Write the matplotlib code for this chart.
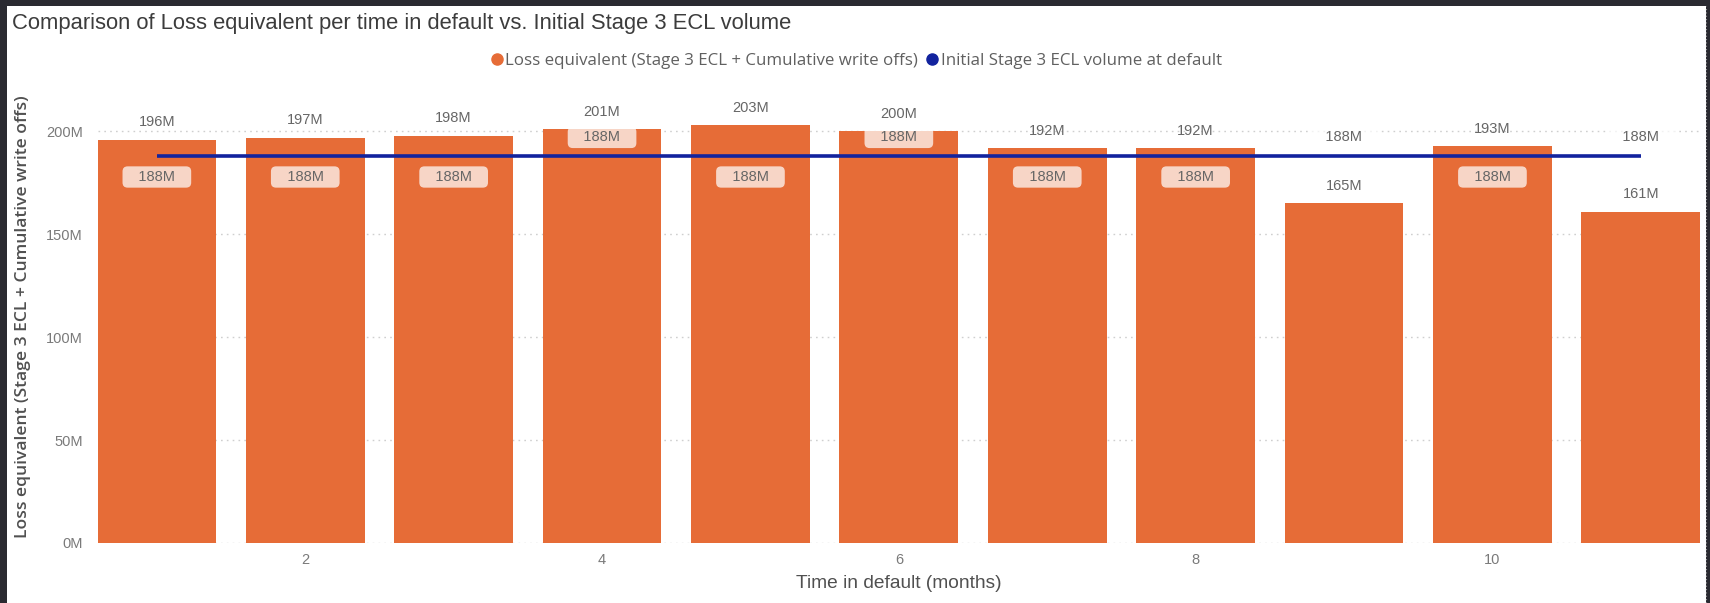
import matplotlib
matplotlib.use("Agg")
import matplotlib.pyplot as plt
from matplotlib.lines import Line2D
from matplotlib.patches import Rectangle

# ---- data -------------------------------------------------------------
months = [1, 2, 3, 4, 5, 6, 7, 8, 9, 10, 11]
loss_equivalent = [196, 197, 198, 201, 203, 200, 192, 192, 165, 193, 161]   # M
initial_stage3_ecl = [188, 188, 188, 188, 188, 188, 188, 188, 188, 188, 188]  # M
x_ticks = [2, 4, 6, 8, 10]
y_ticks = [0, 50, 100, 150, 200]

title = "Comparison of Loss equivalent per time in default vs. Initial Stage 3 ECL volume"
bar_name = "Loss equivalent (Stage 3 ECL + Cumulative write offs)"
line_name = "Initial Stage 3 ECL volume at default"
x_title = "Time in default (months)"
y_title = "Loss equivalent (Stage 3 ECL + Cumulative write offs)"

# where each line label sits relative to the line
line_label_side = ["below", "below", "below", "above", "below", "above",
                   "below", "below", "above", "below", "above"]

# ---- style ------------------------------------------------------------
BAR = "#E66C37"
LINE = "#12239E"
FRAME = "#2A2A31"
GRID = "#CFCFCF"
TICK = "#7A7A7A"
LABEL = "#666666"
W, H = 1710, 603

fig = plt.figure(figsize=(W / 100, H / 100), dpi=100, facecolor=FRAME)
fig.patches.append(Rectangle((7 / W, 0), (1706 - 7) / W, (H - 6) / H,
                             transform=fig.transFigure, facecolor="white",
                             edgecolor="none", zorder=-10))
fig.add_artist(Line2D([1706 / W, 1706 / W], [0, (H - 6) / H],
                      transform=fig.transFigure, color="#9A9A9A",
                      lw=0.8, ls=(0, (1, 2))))

ax = fig.add_axes([97.5 / W, 60 / H, (1700.2 - 97.5) / W, (543 - 110.9) / H])
ax.set_facecolor("none")

ax.bar(months, loss_equivalent, width=0.8, color=BAR, zorder=2)
ax.plot(months, initial_stage3_ecl, color=LINE, lw=2.6, zorder=3,
        solid_capstyle="butt")

ax.set_xlim(0.6, 11.4)
ax.set_ylim(0, 210)
ax.set_xticks(x_ticks)
ax.set_xticklabels([str(t) for t in x_ticks])
ax.set_yticks(y_ticks)
ax.set_yticklabels([f"{t}M" for t in y_ticks])
ax.tick_params(axis="both", length=0, colors=TICK, labelsize=10.5)
ax.tick_params(axis="y", pad=10.5)
ax.tick_params(axis="x", pad=7.5)
for lbl in ax.get_xticklabels() + ax.get_yticklabels():
    lbl.set_fontfamily("Liberation Sans")
for s in ax.spines.values():
    s.set_visible(False)
ax.set_axisbelow(True)
ax.yaxis.grid(True, color=GRID, lw=1.0, ls=(0, (1.2, 3)))

# totals above bars
for m, v in zip(months, loss_equivalent):
    ax.annotate(f"{v}M", (m, v), xytext=(0, 12.5), textcoords="offset points",
                ha="center", va="center", fontsize=10.5, color=LABEL,
                family="Liberation Sans", zorder=5)

# line value labels
for m, v, side in zip(months, initial_stage3_ecl, line_label_side):
    dy = -15 if side == "below" else 13.5
    ax.annotate(f"   {v}M   ", (m, v), xytext=(0, dy), textcoords="offset points",
                ha="center", va="center", fontsize=10.5, color=LABEL,
                family="Liberation Sans", zorder=6,
                bbox=dict(boxstyle="round,pad=0.25,rounding_size=0.35",
                          fc="white", ec="none", alpha=0.72))

# titles
fig.text(12 / W, (H - 29) / H, title, ha="left", va="baseline",
         fontsize=15.8, color="#3C3C3C", family="Liberation Sans")
fig.text(23 / W, (H - 317) / H, y_title, rotation=90, ha="center", va="center",
         fontsize=12.6, color="#505050", family="Open Sans", weight="semibold")
ax.set_xlabel(x_title, fontsize=13.8, color="#505050", family="Liberation Sans",
              va="center")
ax.xaxis.set_label_coords(0.5, (543 - 583) / (543 - 110.9))

handles = [Line2D([], [], ls="none", marker="o", ms=8, color=BAR),
           Line2D([], [], ls="none", marker="o", ms=8, color=LINE)]
fig.legend(handles, [bar_name, line_name], loc="center",
           bbox_to_anchor=(0.501, (H - 61) / H), ncol=2, frameon=False,
           handlelength=0.6, handletextpad=0.2, columnspacing=0.55,
           borderpad=0, prop={"family": "Open Sans", "size": 12.2},
           labelcolor="#606060")

fig.savefig("out.png", dpi=100, facecolor=FRAME)
